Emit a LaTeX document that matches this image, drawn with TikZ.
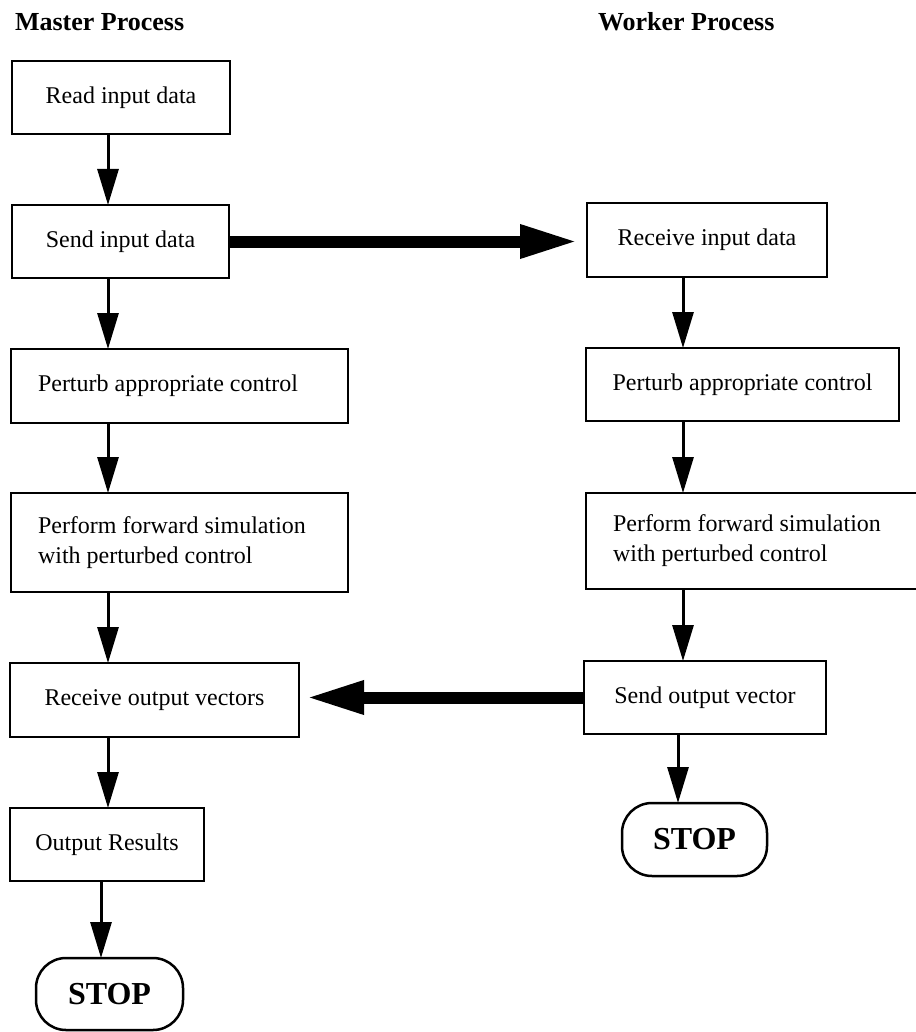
\documentclass[tikz,border=0pt]{standalone}
\usepackage{fontspec}
\setmainfont{Liberation Serif}
\usepackage{tikz}
\usetikzlibrary{calc,arrows.meta}

\tikzset{
  proc/.style={draw, line width=2.5pt, anchor=north west, align=center,
    font=\fontsize{24}{30}\selectfont},
  proc_wide/.style={proc, align=flush left, text width=283pt, inner xsep=27pt},
  stopbox/.style={draw, line width=2.5pt, anchor=north west, rounded corners=30pt,
    font=\fontsize{32}{38}\selectfont\bfseries},
  head/.style={anchor=base west, font=\fontsize{26}{30}\selectfont\bfseries},
  flow/.style={line width=3pt, -{Triangle[length=36pt,width=21pt]}},
  msg/.style={line width=12pt, -{Triangle[length=58pt,width=31pt]}},
}

\begin{document}
\begin{tikzpicture}[inner sep=0pt,outer sep=0pt]
    \useasboundingbox (0pt,0pt) rectangle (915pt,-1032pt);

    % headers
    \node[head] (master_hdr) at (15pt,-31pt) {Master Process};
    \node[head] (worker_hdr) at (598pt,-31pt) {Worker Process};

    % master column
    \node[proc, minimum width=218pt, minimum height=73pt] (read) at (12pt,-61pt)
    {Read input data};
    \node[proc, minimum width=217pt, minimum height=73pt] (send) at (12pt,-205pt)
    {Send input data};
    \node[proc_wide, minimum height=74pt] (perturb_m) at (11pt,-349pt)
    {Perturb appropriate control};
    \node[proc_wide, minimum height=99pt] (sim_m) at (11pt,-493pt)
    {Perform forward simulation\\ with perturbed control};
    \node[proc, minimum width=289pt, minimum height=74pt] (recv_out) at (10pt,-663pt)
    {Receive output vectors};
    \node[proc, minimum width=194pt, minimum height=73pt] (results) at (10pt,-808pt)
    {Output Results};
    \node[stopbox, minimum width=147pt, minimum height=72pt] (stop_m) at (36pt,-958pt)
    {STOP};

    % worker column
    \node[proc, minimum width=240pt, minimum height=74pt] (recv_in) at (587pt,-203pt)
    {Receive input data};
    \node[proc, minimum width=313pt, minimum height=73pt] (perturb_w) at (586pt,-348pt)
    {Perturb appropriate control};
    \node[proc_wide, text width=300pt, minimum height=96pt] (sim_w) at (586pt,-493pt)
    {Perform forward simulation\\ with perturbed control};
    \node[proc, minimum width=242pt, minimum height=73pt] (send_out) at (584pt,-661pt)
    {Send output vector};
    \node[stopbox, minimum width=145pt, minimum height=73pt] (stop_w) at (622pt,-803pt)
    {STOP};

    % arrow lanes
    \coordinate (lane_m) at (108pt,0pt);
    \coordinate (lane_m2) at (101pt,0pt);
    \coordinate (lane_w) at (683pt,0pt);
    \coordinate (lane_w2) at (678pt,0pt);

    % master flow
    \draw[flow] (read.south -| lane_m) -- (send.north -| lane_m);
    \draw[flow] (send.south -| lane_m) -- (perturb_m.north -| lane_m);
    \draw[flow] (perturb_m.south -| lane_m) -- (sim_m.north -| lane_m);
    \draw[flow] (sim_m.south -| lane_m) -- (recv_out.north -| lane_m);
    \draw[flow] (recv_out.south -| lane_m) -- (results.north -| lane_m);
    \draw[flow] (results.south -| lane_m2) -- (stop_m.north -| lane_m2);

    % worker flow
    \draw[flow] (recv_in.south -| lane_w) -- (perturb_w.north -| lane_w);
    \draw[flow] (perturb_w.south -| lane_w) -- (sim_w.north -| lane_w);
    \draw[flow] (sim_w.south -| lane_w) -- (send_out.north -| lane_w);
    \draw[flow] (send_out.south -| lane_w2) -- (stop_w.north -| lane_w2);

    % messages
    \draw[msg, shorten >=9pt] (send.east) -- (send.east -| recv_in.west);
    \draw[msg, shorten >=7pt] (send_out.west) -- (send_out.west -| recv_out.east);

\end{tikzpicture}
\end{document}
